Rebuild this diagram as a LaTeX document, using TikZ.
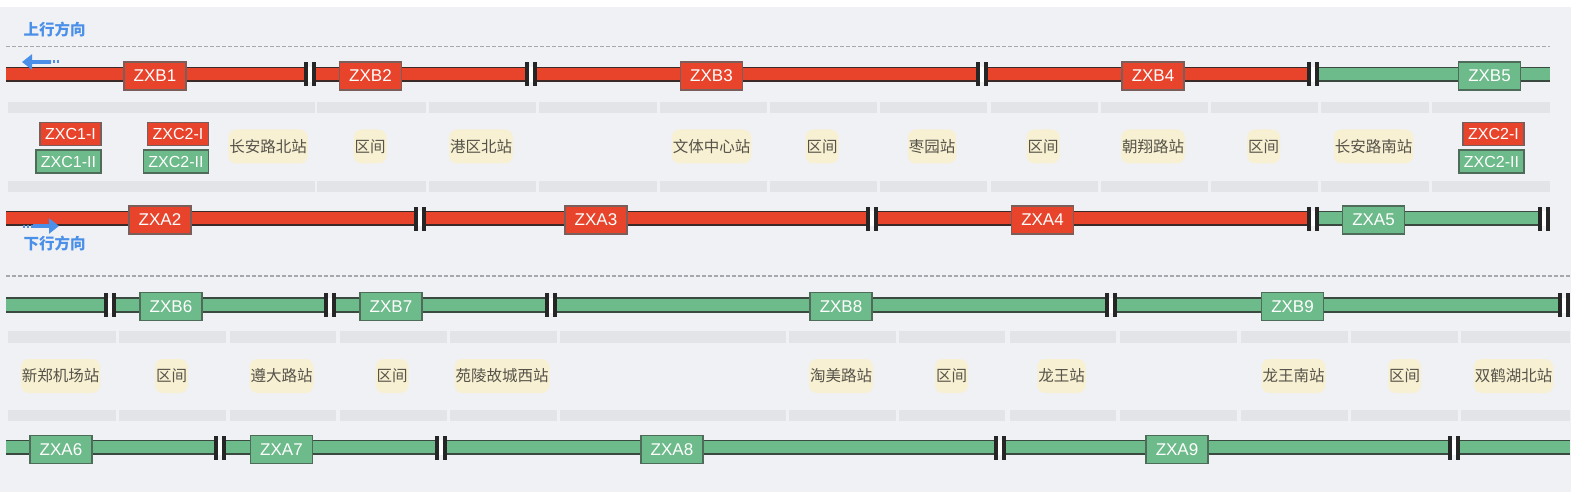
\documentclass[tikz,border=0pt]{standalone}
\usepackage{fontspec}
\setmainfont{Liberation Sans}
\newfontfamily\cjk{Noto Sans CJK SC}
\usetikzlibrary{arrows.meta}
\definecolor{bgc}{HTML}{F0F1F5}
\definecolor{barc}{HTML}{E3E4E8}
\definecolor{tred}{HTML}{E8432B}
\definecolor{tredb}{HTML}{3B2A28}
\definecolor{tgrn}{HTML}{6DBA8A}
\definecolor{tgrnb}{HTML}{3A4A40}
\definecolor{bredb}{HTML}{7A5E5C}
\definecolor{bgrnb}{HTML}{4F6B5A}
\definecolor{pillc}{HTML}{F8F0D2}
\definecolor{labc}{HTML}{55534A}
\definecolor{dirc}{HTML}{4A8FE8}
\definecolor{dashc}{HTML}{A6A8AD}
\newcommand\trk[5]{%
  \fill[#4] (#1,#3-7) rectangle (#2,#3+7);
  \draw[#5,line width=1.5pt] (#1,#3-7) -- (#2,#3-7);
  \draw[#5,line width=2pt] (#1,#3+6.5) -- (#2,#3+6.5);}
\newcommand\jnt[2]{%
  \fill[white] (#1+3.5,#2-7.5) rectangle (#1+8,#2+7.5);
  \fill[black!85] (#1,#2-12) rectangle (#1+3.5,#2+12);
  \fill[black!85] (#1+8,#2-12) rectangle (#1+11.5,#2+12);}
\begin{document}
\begin{tikzpicture}[x=1pt,y=-1pt,
  tbox/.style={line width=1.5pt, minimum width=62pt, minimum height=28pt, inner sep=0pt,
    text=white, font=\fontsize{17}{17}\selectfont},
  rbox/.style={tbox, fill=tred, draw=bredb},
  gbox/.style={tbox, fill=tgrn, draw=bgrnb},
  cbox/.style={line width=1.5pt, minimum height=23pt, inner sep=0pt, text=white,
    font=\fontsize{16}{16}\selectfont},
  crbox/.style={cbox, fill=tred, draw=bredb, minimum width=61pt},
  cgbox/.style={cbox, fill=tgrn, draw=bgrnb, minimum width=65pt},
  pill/.style={fill=pillc, rounded corners=8pt, minimum height=34pt, inner xsep=1pt,
    inner ysep=0pt, text=labc, font=\cjk\fontsize{15.5}{15.5}\selectfont},
  dirlab/.style={text=dirc, inner sep=0pt, font=\cjk\bfseries\fontsize{15.5}{15.5}\selectfont},
  sep/.style={dashc, line width=1.5pt, dash pattern=on 4pt off 2pt},
  dirarrow/.style={dirc, line width=4pt, -{Triangle[length=10pt,width=15pt]}},
  dirtail/.style={dirc, line width=3pt, dash pattern=on 2pt off 2pt}
]
\useasboundingbox (0,0) rectangle (1575,492);
\fill[white] (0,0) rectangle (1575,492);
\fill[bgc] (0,7) rectangle (1571,492);

% grey bars
\foreach \a/\b in {8/315,317/426,429/536,539/657,660/767,770/877,880/987,991/1098,1101/1208,1211/1318,1321/1429,1432/1550}{
  \fill[barc] (\a,102) rectangle (\b,113);
  \fill[barc] (\a,181) rectangle (\b,192);}
\foreach \a/\b in {8/116,119/226,230/336,340/447,450/557,560/786,789/896,899/1005,1010/1116,1120/1237,1241/1348,1351/1458,1461/1570}{
  \fill[barc] (\a,331) rectangle (\b,343);
  \fill[barc] (\a,410) rectangle (\b,421);}

% separators
\coordinate (s1a) at (6,46.5); \coordinate (s1b) at (1550,46.5);
\coordinate (s2a) at (6,276); \coordinate (s2b) at (1570,276);
\draw[sep] (s1a) -- (s1b);
\draw[sep] (s2a) -- (s2b);

% direction labels
\node[dirlab] (up) at (54.5,30) {上行方向};
\node[dirlab] (down) at (54.5,244) {下行方向};

% row 1 upper track
\trk{6}{304}{74.5}{tred}{tredb}
\trk{315.5}{525}{74.5}{tred}{tredb}
\trk{536.5}{976}{74.5}{tred}{tredb}
\trk{987.5}{1307}{74.5}{tred}{tredb}
\trk{1318.5}{1550}{74.5}{tgrn}{tgrnb}
\jnt{304}{74.5}\jnt{525}{74.5}\jnt{976}{74.5}\jnt{1307}{74.5}

% row 1 lower track
\trk{6}{414}{218.5}{tred}{tredb}
\trk{425.5}{866}{218.5}{tred}{tredb}
\trk{877.5}{1307}{218.5}{tred}{tredb}
\trk{1318.5}{1538}{218.5}{tgrn}{tgrnb}
\jnt{414}{218.5}\jnt{866}{218.5}\jnt{1307}{218.5}\jnt{1538}{218.5}

% row 2 upper track
\trk{6}{104}{305}{tgrn}{tgrnb}
\trk{115.5}{324}{305}{tgrn}{tgrnb}
\trk{335.5}{545}{305}{tgrn}{tgrnb}
\trk{556.5}{1105}{305}{tgrn}{tgrnb}
\trk{1116.5}{1558}{305}{tgrn}{tgrnb}
\jnt{104}{305}\jnt{324}{305}\jnt{545}{305}\jnt{1105}{305}\jnt{1558}{305}

% row 2 lower track
\trk{6}{214}{447.5}{tgrn}{tgrnb}
\trk{225.5}{435}{447.5}{tgrn}{tgrnb}
\trk{446.5}{994}{447.5}{tgrn}{tgrnb}
\trk{1005.5}{1448}{447.5}{tgrn}{tgrnb}
\trk{1459.5}{1570}{447.5}{tgrn}{tgrnb}
\jnt{214}{447.5}\jnt{435}{447.5}\jnt{994}{447.5}\jnt{1448}{447.5}

% section boxes
\node[rbox] (zxb1) at (155,76) {ZXB1};
\node[rbox] (zxb2) at (370.5,76) {ZXB2};
\node[rbox] (zxb3) at (711.5,76) {ZXB3};
\node[rbox] (zxb4) at (1153,76) {ZXB4};
\node[gbox] (zxb5) at (1489.5,76) {ZXB5};
\node[rbox] (zxa2) at (160,220) {ZXA2};
\node[rbox] (zxa3) at (596,220) {ZXA3};
\node[rbox] (zxa4) at (1042.5,220) {ZXA4};
\node[gbox] (zxa5) at (1373.5,220) {ZXA5};
\node[gbox] (zxb6) at (171,306.5) {ZXB6};
\node[gbox] (zxb7) at (391,306.5) {ZXB7};
\node[gbox] (zxb8) at (841,306.5) {ZXB8};
\node[gbox] (zxb9) at (1292.5,306.5) {ZXB9};
\node[gbox] (zxa6) at (61,449.5) {ZXA6};
\node[gbox] (zxa7) at (281.5,449.5) {ZXA7};
\node[gbox] (zxa8) at (672,449.5) {ZXA8};
\node[gbox] (zxa9) at (1177,449.5) {ZXA9};

% ZXC boxes
\node[crbox] (c1a) at (70.5,134) {ZXC1-I};
\node[cgbox] (c1b) at (68.5,161.5) {ZXC1-II};
\node[crbox] (c2a) at (178,134) {ZXC2-I};
\node[cgbox] (c2b) at (176,161.5) {ZXC2-II};
\node[crbox] (c3a) at (1493.5,134) {ZXC2-I};
\node[cgbox] (c3b) at (1491.5,161.5) {ZXC2-II};

% station / interval labels row 1
\node[pill] (l1) at (268,146.5) {长安路北站};
\node[pill] (l2) at (370,146.5) {区间};
\node[pill] (l3) at (481,146.5) {港区北站};
\node[pill] (l4) at (711.5,146.5) {文体中心站};
\node[pill] (l5) at (822,146.5) {区间};
\node[pill] (l6) at (932,146.5) {枣园站};
\node[pill] (l7) at (1043,146.5) {区间};
\node[pill] (l8) at (1153,146.5) {朝翔路站};
\node[pill] (l9) at (1263.5,146.5) {区间};
\node[pill] (l10) at (1373.5,146.5) {长安路南站};

% row 2
\node[pill] (m1) at (60.5,376) {新郑机场站};
\node[pill] (m2) at (171.5,376) {区间};
\node[pill] (m3) at (281.5,376) {遵大路站};
\node[pill] (m4) at (392,376) {区间};
\node[pill] (m5) at (502,376) {苑陵故城西站};
\node[pill] (m6) at (841,376) {淘美路站};
\node[pill] (m7) at (951.5,376) {区间};
\node[pill] (m8) at (1061.5,376) {龙王站};
\node[pill] (m9) at (1293.5,376) {龙王南站};
\node[pill] (m10) at (1404.5,376) {区间};
\node[pill] (m11) at (1513.5,376) {双鹤湖北站};

% direction arrows
\coordinate (ua0) at (59,62); \coordinate (ua1) at (51,62); \coordinate (ua2) at (22,62);
\draw[dirtail] (ua0) -- (ua1);
\draw[dirarrow] (ua1) -- (ua2);
\coordinate (da0) at (23,226); \coordinate (da1) at (33,226); \coordinate (da2) at (59,226);
\draw[dirtail] (da0) -- (da1);
\draw[dirarrow] (da1) -- (da2);
\end{tikzpicture}
\end{document}
